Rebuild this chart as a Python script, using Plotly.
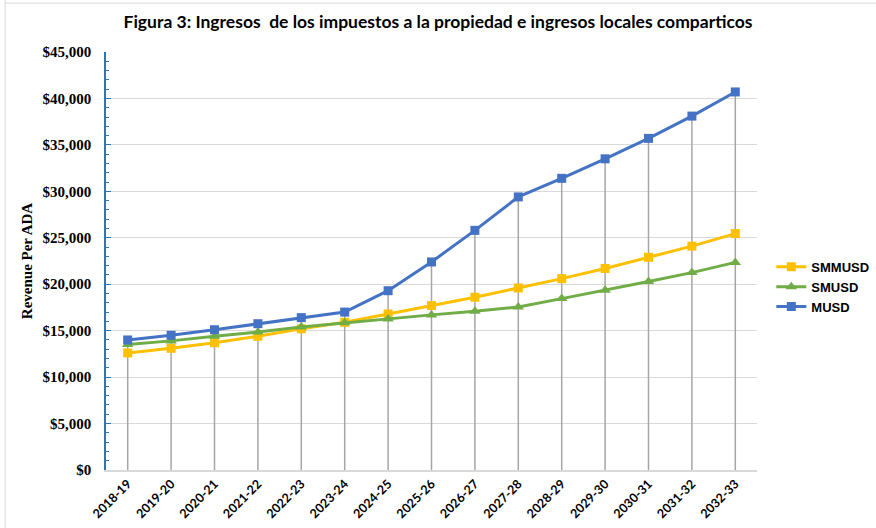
import plotly.graph_objects as go

years = ["2018-19", "2019-20", "2020-21", "2021-22", "2022-23", "2023-24", "2024-25",
         "2025-26", "2026-27", "2027-28", "2028-29", "2029-30", "2030-31", "2031-32", "2032-33"]
smmusd = [12600, 13100, 13700, 14400, 15200, 15900, 16800, 17700, 18600, 19600, 20600, 21700, 22900, 24100, 25450]
smusd = [13500, 13900, 14400, 14850, 15400, 15850, 16250, 16700, 17100, 17550, 18450, 19350, 20300, 21250, 22350]
musd = [14000, 14500, 15100, 15750, 16400, 17000, 19300, 22400, 25800, 29400, 31400, 33500, 35700, 38100, 40700]

fig = go.Figure()

# drop lines (Excel style) from highest series down to zero
tops = [max(a, b, c) for a, b, c in zip(smmusd, smusd, musd)]
dx, dy = [], []
for yr, t in zip(years, tops):
    dx += [yr, yr, None]
    dy += [0, t, None]
fig.add_trace(go.Scatter(x=dx, y=dy, mode="lines", line=dict(color="#A6A6A6", width=1.5),
                         showlegend=False, hoverinfo="skip"))

fig.add_trace(go.Scatter(x=years, y=smmusd, name="SMMUSD", mode="lines+markers",
                         line=dict(color="#FFC000", width=3),
                         marker=dict(symbol="square", size=9, color="#FFC000")))
fig.add_trace(go.Scatter(x=years, y=smusd, name="SMUSD", mode="lines+markers",
                         line=dict(color="#70AD47", width=3),
                         marker=dict(symbol="triangle-up", size=10, color="#70AD47")))
fig.add_trace(go.Scatter(x=years, y=musd, name="MUSD", mode="lines+markers",
                         line=dict(color="#4472C4", width=3),
                         marker=dict(symbol="square", size=9, color="#4472C4")))

fig.update_layout(
    width=876, height=528,
    margin=dict(l=106, r=119, t=52, b=58, autoexpand=False),
    paper_bgcolor="white", plot_bgcolor="white",
    title=dict(text="Figura 3: Ingresos\u00a0 de los impuestos a la propiedad e ingresos locales comparticos",
               x=0.5, xref="container", xanchor="center", y=0.958, yanchor="middle",
               font=dict(family="Lato", size=17.5, color="black", weight="bold")),
    legend=dict(x=1.022, y=0.522, xanchor="left", yanchor="top",
                font=dict(family="Liberation Sans", size=13, color="black", weight="bold"),
                tracegroupgap=4, itemwidth=30, bgcolor="rgba(0,0,0,0)"),
    showlegend=True,
    shapes=[
        dict(type="line", xref="paper", yref="paper", x0=-0.155, x1=-0.155, y0=-0.2, y1=1.13,
             line=dict(color="#D9D9D9", width=1)),
        dict(type="line", xref="paper", yref="paper", x0=-0.155, x1=1.2, y0=1.117, y1=1.117,
             line=dict(color="#D9D9D9", width=1)),
    ],
)

fig.update_xaxes(
    type="category", tickangle=-45, automargin=False,
    tickfont=dict(family="Lato", size=12.5, color="black", weight="bold"),
    showgrid=False, showline=True, linecolor="#D9D9D9", linewidth=1.5,
    ticks="", range=[-0.5, 14.5],
)
fig.update_yaxes(
    range=[0, 45000], dtick=5000, tickprefix="$", tickformat=",", automargin=False,
    tickfont=dict(family="Liberation Serif", size=15, color="black", weight="bold"),
    ticklabelstandoff=10,
    title=dict(text="Revenue Per ADA", font=dict(family="Liberation Serif", size=15, color="black", weight="bold"),
               standoff=6),
    showgrid=True, gridcolor="#D9D9D9", gridwidth=1,
    showline=True, linecolor="#2E75B6", linewidth=1.5,
    ticks="inside", ticklen=5, tickcolor="#2E75B6",
    minor=dict(dtick=1000, ticks="inside", ticklen=3, tickcolor="#2E75B6", showgrid=False),
    zeroline=False,
)

fig.write_html("out.html", config={"displayModeBar": False},
               post_script="document.body.style.margin='0';document.body.style.overflow='hidden';")
